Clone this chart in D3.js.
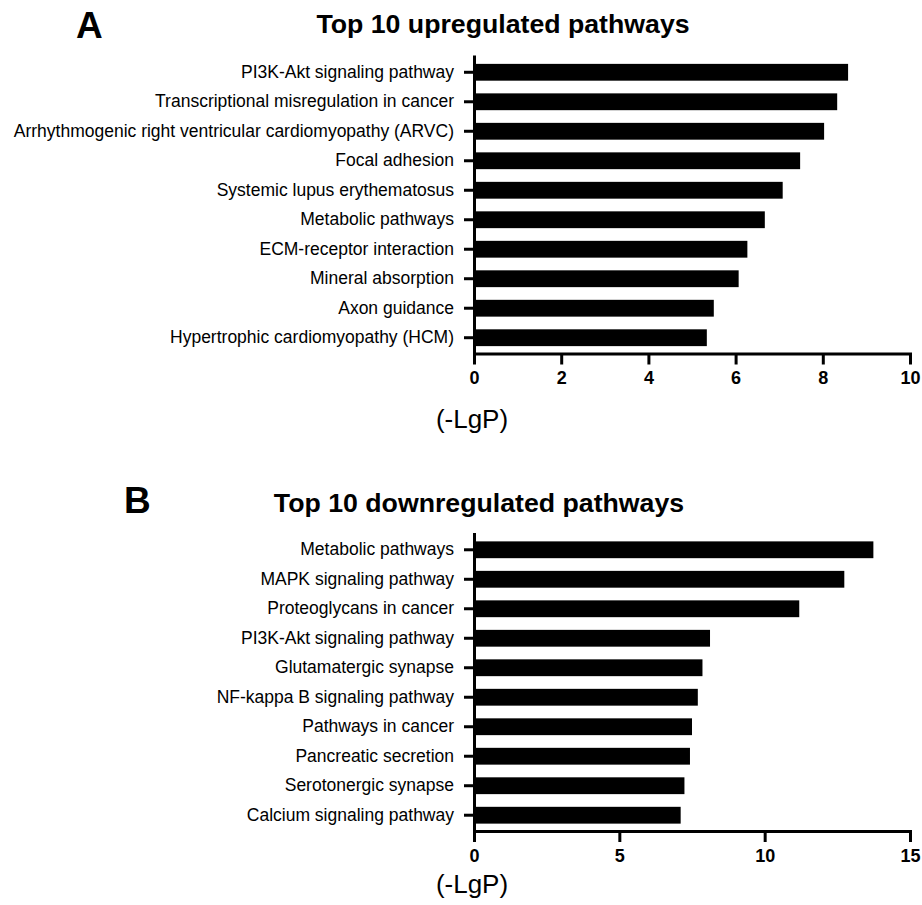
<!DOCTYPE html>
<html>
<head>
<meta charset="utf-8">
<script src="https://cdn.jsdelivr.net/npm/d3@7"></script>
<style>
  html, body { margin: 0; padding: 0; background: #fff; }
  svg { display: block; font-family: Arial, "Liberation Sans", Helvetica, sans-serif; }
</style>
</head>
<body>
<script>
// Pathway enrichment results, -log10(P)
const upCategories = [
  "PI3K-Akt signaling pathway",
  "Transcriptional misregulation in cancer",
  "Arrhythmogenic right ventricular cardiomyopathy (ARVC)",
  "Focal adhesion",
  "Systemic lupus erythematosus",
  "Metabolic pathways",
  "ECM-receptor interaction",
  "Mineral absorption",
  "Axon guidance",
  "Hypertrophic cardiomyopathy (HCM)"
];
const upValues = [8.58, 8.33, 8.03, 7.48, 7.08, 6.67, 6.27, 6.07, 5.50, 5.34];
const upTicks = [0, 2, 4, 6, 8, 10];

const downCategories = [
  "Metabolic pathways",
  "MAPK signaling pathway",
  "Proteoglycans in cancer",
  "PI3K-Akt signaling pathway",
  "Glutamatergic synapse",
  "NF-kappa B signaling pathway",
  "Pathways in cancer",
  "Pancreatic secretion",
  "Serotonergic synapse",
  "Calcium signaling pathway"
];
const downValues = [13.74, 12.74, 11.19, 8.12, 7.86, 7.70, 7.50, 7.43, 7.24, 7.11];
const downTicks = [0, 5, 10, 15];

const W = 922, H = 905;
const svg = d3.select("body").append("svg").attr("width", W).attr("height", H);

function panel(opt) {
  const g = svg.append("g");
  const x = d3.scaleLinear().domain([0, opt.xMax]).range([474, 910]);
  const y = d3.scaleBand().domain(opt.categories)
    .range([opt.top, opt.bottom]).paddingInner(0.43).paddingOuter(0.25);

  // panel letter and title
  g.append("text").attr("x", opt.letterX).attr("y", opt.letterY)
    .attr("font-size", 37).attr("font-weight", "bold").text(opt.letter);
  g.append("text").attr("x", opt.titleX).attr("y", opt.titleY)
    .attr("text-anchor", "middle").attr("font-size", 26.7).attr("font-weight", "bold")
    .text(opt.title);

  // bars
  g.append("g").selectAll("rect").data(opt.values).join("rect")
    .attr("x", x(0))
    .attr("y", (d, i) => y(opt.categories[i]))
    .attr("width", d => x(d) - x(0))
    .attr("height", y.bandwidth())
    .attr("fill", "#000");

  // y axis
  const ya = g.append("g").attr("transform", `translate(${x(0)},0)`)
    .call(d3.axisLeft(y).tickSize(10).tickSizeOuter(0).tickPadding(10));
  ya.selectAll("text").attr("font-size", 17.5).attr("fill", "#000")
    .attr("font-family", "Arial, 'Liberation Sans', sans-serif");

  // x axis
  const xa = g.append("g").attr("transform", `translate(0,${opt.bottom})`)
    .call(d3.axisBottom(x).tickValues(opt.ticks).tickSize(11).tickSizeOuter(0)
      .tickPadding(7).tickFormat(d3.format("d")));
  xa.selectAll("text").attr("font-size", 18).attr("font-weight", "bold").attr("fill", "#000")
    .attr("font-family", "Arial, 'Liberation Sans', sans-serif");

  [ya, xa].forEach(a => {
    a.select(".domain").attr("stroke", "#000").attr("stroke-width", 3)
      .attr("stroke-linecap", "square");
    a.selectAll(".tick line").attr("stroke", "#000").attr("stroke-width", 3);
  });

  // axis title
  g.append("text").attr("x", 472).attr("y", opt.xLabelY)
    .attr("text-anchor", "middle").attr("font-size", 26).text("(-LgP)");
}

panel({
  categories: upCategories, values: upValues, ticks: upTicks, xMax: 10,
  top: 56.5, bottom: 353.5,
  letter: "A", letterX: 76, letterY: 38,
  title: "Top 10 upregulated pathways", titleX: 503, titleY: 33,
  xLabelY: 428
});

panel({
  categories: downCategories, values: downValues, ticks: downTicks, xMax: 15,
  top: 534, bottom: 831,
  letter: "B", letterX: 124, letterY: 513,
  title: "Top 10 downregulated pathways", titleX: 479, titleY: 512,
  xLabelY: 893
});
</script>
</body>
</html>
